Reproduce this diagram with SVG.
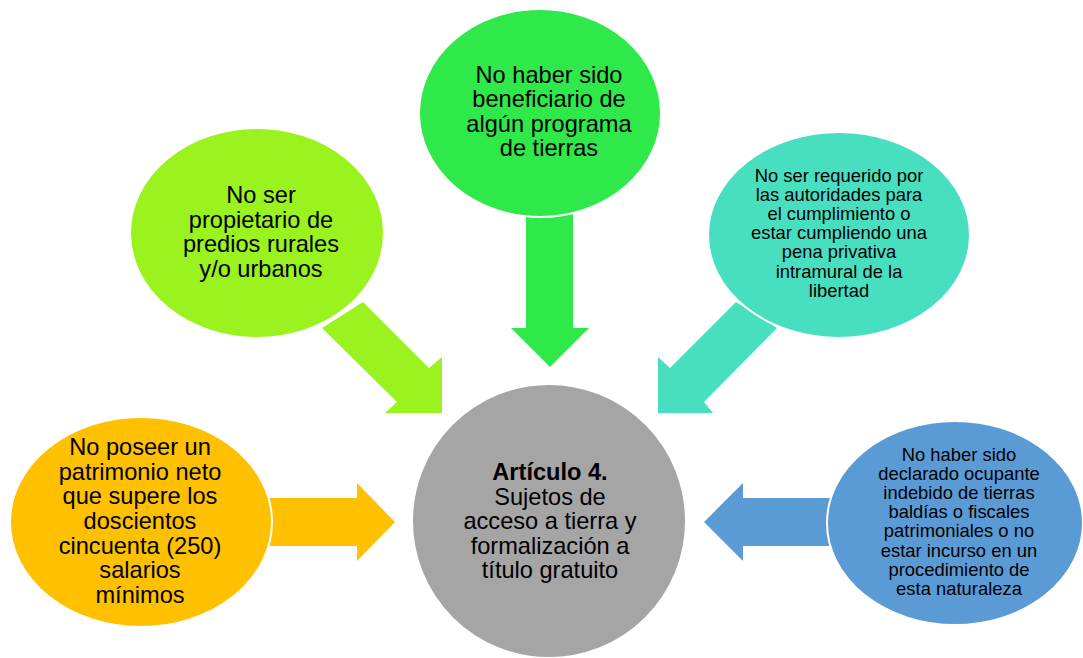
<svg xmlns="http://www.w3.org/2000/svg" width="1083" height="658" viewBox="0 0 1083 658">
<style>
.big{font-family:"Liberation Sans",Arial,sans-serif;font-size:23.6px;fill:#000;text-anchor:middle}
.sm{font-family:"Liberation Sans",Arial,sans-serif;font-size:18.4px;fill:#000;text-anchor:middle}
.b{font-weight:bold}
.node{stroke:#fff;stroke-width:2}
</style>
<rect width="1083" height="658" fill="#fff"/>
<g id="connectors">
<polygon points="363,302 429,368 442,357 442,413 385,413 397,402 322,328" fill="#9AF21E"/>
<polygon points="526,205 573,205 573,328 589,328 550,367 511,328 526,328" fill="#2FE84A"/>
<polygon points="736,302 670,368 658,357 658,413 713,413 704,402 777,328" fill="#48DFC1"/>
<polygon points="260,498 357,498 357,483 395,522 357,561 357,546 260,546" fill="#FFC000"/>
<polygon points="840,498 743,498 743,483 704,522 743,561 743,546 840,546" fill="#5B9BD5"/>
</g>
<g id="node-center">
<circle class="node" cx="549" cy="521" r="137" fill="#A5A5A5"/>
<text class="big"><tspan class="b" x="550" y="480">Artículo 4.</tspan><tspan x="550" y="504.5">Sujetos de</tspan><tspan x="550" y="529">acceso a tierra y</tspan><tspan x="550" y="553.5">formalización a</tspan><tspan x="550" y="578">título gratuito</tspan></text>
</g>
<g id="node-patrimonio">
<ellipse class="node" cx="141" cy="522" rx="131" ry="105" fill="#FFC000"/>
<text class="big"><tspan x="140" y="455">No poseer un</tspan><tspan x="140" y="479.7">patrimonio neto</tspan><tspan x="140" y="504.3">que supere los</tspan><tspan x="140" y="529">doscientos</tspan><tspan x="140" y="553.7">cincuenta (250)</tspan><tspan x="140" y="578.3">salarios</tspan><tspan x="140" y="603">mínimos</tspan></text>
</g>
<g id="node-propietario">
<ellipse class="node" cx="257" cy="233" rx="127" ry="105" fill="#9AF21E"/>
<text class="big"><tspan x="261" y="203">No ser</tspan><tspan x="261" y="227.7">propietario de</tspan><tspan x="261" y="252.3">predios rurales</tspan><tspan x="261" y="277">y/o urbanos</tspan></text>
</g>
<g id="node-beneficiario">
<ellipse class="node" cx="540" cy="113" rx="121" ry="104" fill="#2FE84A"/>
<text class="big"><tspan x="549" y="83">No haber sido</tspan><tspan x="549" y="107.3">beneficiario de</tspan><tspan x="549" y="131.7">algún programa</tspan><tspan x="549" y="156">de tierras</tspan></text>
</g>
<g id="node-requerido">
<ellipse class="node" cx="839" cy="235" rx="131" ry="103" fill="#48DFC1"/>
<text class="sm"><tspan x="839" y="181.7">No ser requerido por</tspan><tspan x="839" y="200.9">las autoridades para</tspan><tspan x="839" y="220">el cumplimiento o</tspan><tspan x="839" y="239.2">estar cumpliendo una</tspan><tspan x="839" y="258.4">pena privativa</tspan><tspan x="839" y="277.5">intramural de la</tspan><tspan x="839" y="296.7">libertad</tspan></text>
</g>
<g id="node-ocupante">
<ellipse class="node" cx="955" cy="523" rx="128" ry="102" fill="#5B9BD5"/>
<text class="sm"><tspan x="959" y="460.7">No haber sido</tspan><tspan x="959" y="479.9">declarado ocupante</tspan><tspan x="959" y="499.1">indebido de tierras</tspan><tspan x="959" y="518.3">baldías o fiscales</tspan><tspan x="959" y="537.4">patrimoniales o no</tspan><tspan x="959" y="556.6">estar incurso en un</tspan><tspan x="959" y="575.8">procedimiento de</tspan><tspan x="959" y="595">esta naturaleza</tspan></text>
</g>
</svg>
